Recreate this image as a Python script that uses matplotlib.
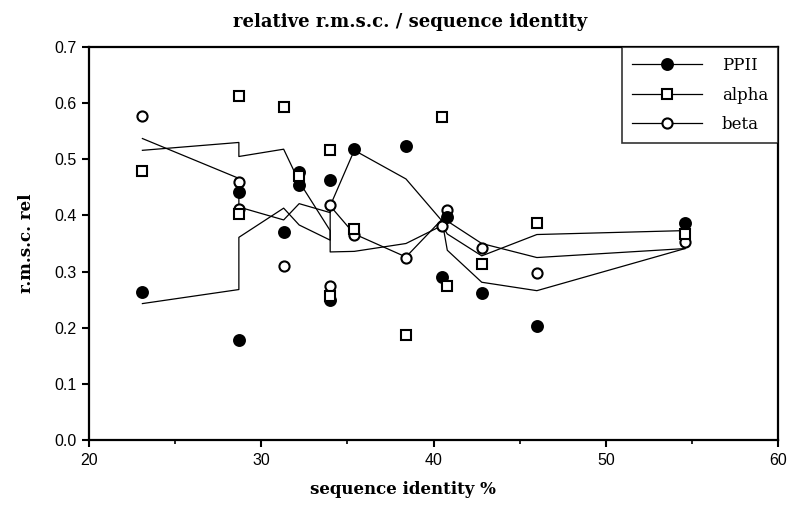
import matplotlib
matplotlib.use('Agg')
import matplotlib.pyplot as plt
from matplotlib.lines import Line2D

# measured points (sequence identity %, relative r.m.s.c.)
ppii_x = [23.1, 28.7, 28.7, 31.3, 32.2, 32.2, 34.0, 34.0, 35.4, 38.4, 40.5, 40.8, 42.8, 46.0, 54.6]
ppii_y = [0.263, 0.178, 0.441, 0.371, 0.477, 0.454, 0.463, 0.250, 0.518, 0.523, 0.291, 0.398, 0.262, 0.203, 0.387]

alpha_x = [23.1, 28.7, 28.7, 31.3, 32.2, 34.0, 34.0, 35.4, 38.4, 40.5, 40.8, 42.8, 46.0, 54.6]
alpha_y = [0.479, 0.612, 0.403, 0.594, 0.471, 0.517, 0.257, 0.375, 0.187, 0.575, 0.274, 0.314, 0.387, 0.367]

beta_x = [23.1, 28.7, 28.7, 31.3, 34.0, 34.0, 35.4, 38.4, 40.5, 40.8, 42.8, 46.0, 54.6]
beta_y = [0.577, 0.460, 0.412, 0.310, 0.418, 0.275, 0.366, 0.324, 0.381, 0.410, 0.342, 0.298, 0.353]

# smoothed curves
ppii_fit_x = [23.1, 28.7, 28.7, 31.3, 32.2, 34.0, 34.0, 35.4, 38.4, 40.5, 40.8, 42.8, 46.0, 54.6]
ppii_fit_y = [0.243, 0.268, 0.361, 0.413, 0.383, 0.356, 0.417, 0.516, 0.465, 0.390, 0.338, 0.281, 0.266, 0.341]

alpha_fit_x = [23.1, 28.7, 28.7, 31.3, 32.2, 34.0, 34.0, 35.4, 38.4, 40.5, 40.8, 42.8, 46.0, 54.6]
alpha_fit_y = [0.516, 0.530, 0.505, 0.518, 0.460, 0.373, 0.335, 0.336, 0.350, 0.382, 0.367, 0.328, 0.366, 0.373]

beta_fit_x = [23.1, 28.7, 28.7, 31.3, 32.2, 34.0, 34.0, 35.4, 38.4, 40.8, 40.8, 42.8, 46.0, 54.6]
beta_fit_y = [0.537, 0.466, 0.415, 0.392, 0.421, 0.405, 0.417, 0.367, 0.326, 0.403, 0.390, 0.350, 0.325, 0.341]

labels = ['PPII', 'alpha', 'beta']

serif = 'DejaVu Serif'
sans = 'Liberation Sans'

fig = plt.figure(figsize=(7.87, 5.05), dpi=100)
ax = fig.add_axes([0.1131, 0.1287, 0.8755, 0.7782])

for fx, fy in [(ppii_fit_x, ppii_fit_y), (alpha_fit_x, alpha_fit_y), (beta_fit_x, beta_fit_y)]:
    ax.plot(fx, fy, color='black', lw=0.9, zorder=2)

ms = 7.3
mew = 1.5
ax.plot(beta_x, beta_y, ls='none', marker='o', ms=ms, mfc='white', mec='black', mew=mew, zorder=3)
ax.plot(ppii_x, ppii_y, ls='none', marker='o', ms=ms + 0.5, mfc='black', mec='black', mew=mew, zorder=4)
ax.plot(alpha_x, alpha_y, ls='none', marker='s', ms=ms - 0.5, mfc='white', mec='black', mew=mew, zorder=5)

ax.set_xlim(20, 60)
ax.set_ylim(0, 0.7)
ax.set_xticks([20, 30, 40, 50, 60])
ax.set_xticks([25, 35, 45, 55], minor=True)
ax.set_yticks([0.0, 0.1, 0.2, 0.3, 0.4, 0.5, 0.6, 0.7])
ax.set_yticklabels(['0.0', '0.1', '0.2', '0.3', '0.4', '0.5', '0.6', '0.7'])

for s in ax.spines.values():
    s.set_linewidth(1.6)
ax.tick_params(axis='both', which='major', direction='out', length=5, width=1.5,
               labelsize=11.5, pad=4)
ax.tick_params(axis='x', which='minor', direction='out', length=3, width=1.2)
for lab in ax.get_xticklabels() + ax.get_yticklabels():
    lab.set_fontfamily(sans)

# title and x label sit a little left of the axes centre, as in the original
ax.text(0.466, 1.064, 'relative r.m.s.c. / sequence identity', transform=ax.transAxes,
        ha='center', va='center', fontfamily=serif, fontweight='bold', fontsize=13)
ax.set_xlabel('sequence identity %', fontfamily=serif, fontweight='bold', fontsize=12)
ax.xaxis.set_label_coords(0.456, -0.127)
ax.xaxis.label.set_va('center')
ax.set_ylabel('r.m.s.c. rel', fontfamily=serif, fontweight='bold',
              fontsize=12, labelpad=14)

handles = [
    Line2D([], [], color='black', lw=0.9, marker='o', ms=ms + 0.5, mfc='black', mec='black', mew=mew),
    Line2D([], [], color='black', lw=0.9, marker='s', ms=ms - 0.5, mfc='white', mec='black', mew=mew),
    Line2D([], [], color='black', lw=0.9, marker='o', ms=ms, mfc='white', mec='black', mew=mew),
]
leg = ax.legend(handles, labels, loc='upper right', borderaxespad=0, fancybox=False,
                handlelength=4.2, handletextpad=1.2, labelspacing=0.75,
                borderpad=0.6, prop={'family': serif, 'size': 12})
leg.get_frame().set_edgecolor('black')
leg.get_frame().set_linewidth(1.2)

fig.savefig('out.png', dpi=100)
